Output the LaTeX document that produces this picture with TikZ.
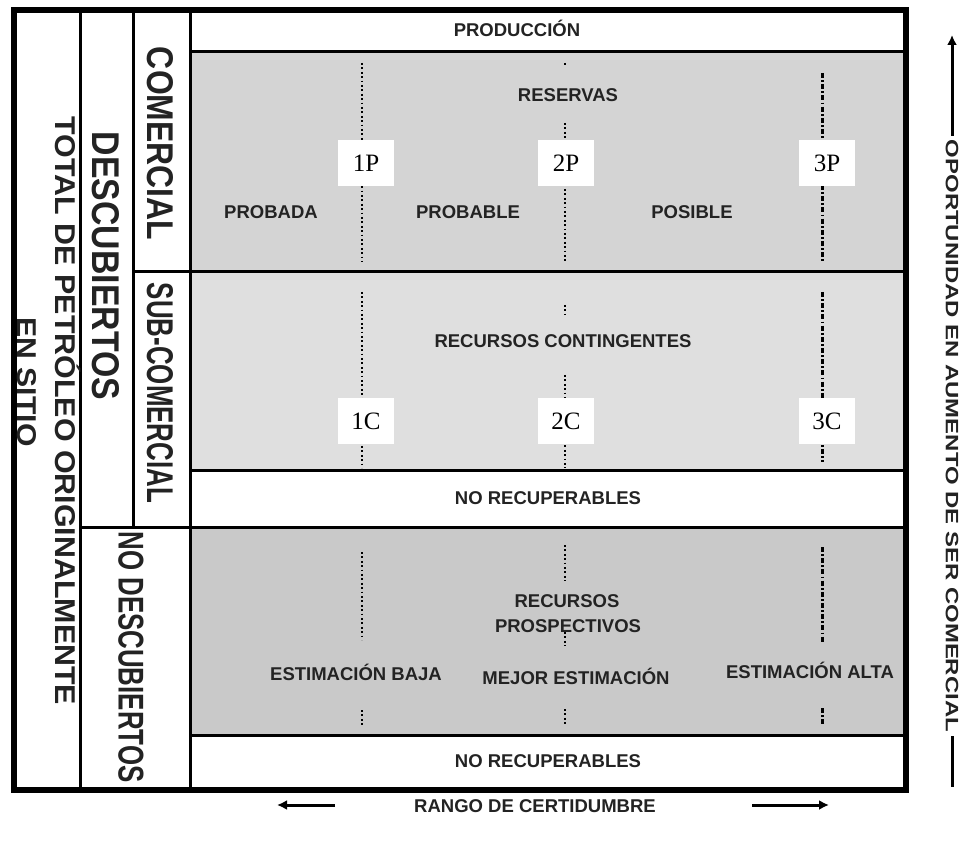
\documentclass[tikz,border=0pt]{standalone}
\usepackage{fontspec}
\setmainfont{Liberation Sans}
\newfontfamily\numfont{Liberation Serif}
\usetikzlibrary{arrows.meta}
\definecolor{bandA}{RGB}{212,212,212}
\definecolor{bandB}{RGB}{223,223,223}
\definecolor{bandC}{RGB}{201,201,201}
\definecolor{ink}{RGB}{35,35,35}
\begin{document}
\begin{tikzpicture}[x=1pt,y=-1pt,
  lbl/.style={font=\bfseries\fontsize{18.5}{22}\selectfont, text=ink, inner sep=0pt, anchor=base},
  vlab/.style={rotate=-90, inner sep=0pt, text=ink, anchor=center, font=\bfseries},
  numbox/.style={fill=white, minimum width=56pt, minimum height=46pt, inner sep=0pt, font=\numfont\fontsize{25}{25}\selectfont},
  sepline/.style={line width=3pt},
  dotl/.style={line width=2.6pt, dash pattern=on 1.8pt off 2.6pt},
  dashdotl/.style={line width=3pt, dash pattern=on 5pt off 2.2pt on 1.8pt off 2.2pt},
  arr/.style={line width=3pt, -{Latex[length=10pt,width=10pt]}}
]
\useasboundingbox (0,0) rectangle (962,842);
\fill[white] (0,0) rectangle (962,842);
% bands
\fill[bandA] (190,52) rectangle (906,272);
\fill[bandB] (190,272) rectangle (906,470);
\fill[bandC] (190,527) rectangle (906,735);
% separators
\draw[sepline] (80,10) -- (80,790);
\draw[sepline] (133,10) -- (133,527);
\draw[sepline] (190,10) -- (190,790);
\draw[sepline] (190,52) -- (906,52);
\draw[sepline] (133,272) -- (906,272);
\draw[sepline] (190,470) -- (906,470);
\draw[sepline] (80,527) -- (906,527);
\draw[sepline] (190,735) -- (906,735);
\draw[line width=5.5pt] (14,10) rectangle (906,790);
% dotted lines, column 1
\draw[dotl] (362,63) -- (362,262);
\draw[dotl] (362,292) -- (362,468);
\draw[dotl] (362,552) -- (362,640);
\draw[dotl] (362,710) -- (362,726);
% column 2
\draw[dotl] (565,63) -- (565,67);
\draw[dotl] (565,123) -- (565,262);
\draw[dotl] (565,305) -- (565,314);
\draw[dotl] (565,375) -- (565,468);
\draw[dotl] (565,545) -- (565,581);
\draw[dotl] (565,632) -- (565,646);
\draw[dotl] (565,709) -- (565,726);
% column 3
\draw[dashdotl] (822,73) -- (822,263);
\draw[dashdotl] (822,292) -- (822,462);
\draw[dashdotl] (822,547) -- (822,642);
\draw[dashdotl] (822,708) -- (822,726);
% number boxes
\node[numbox] (p1) at (366,163) {1P};
\node[numbox] (p2) at (566,163) {2P};
\node[numbox] (p3) at (827,163) {3P};
\node[numbox] (c1) at (366,421) {1C};
\node[numbox] (c2) at (566,421) {2C};
\node[numbox] (c3) at (827,421) {3C};
% labels
\node[lbl] (prod) at (517,37) {PRODUCCIÓN};
\node[lbl] (res) at (568,101.5) {RESERVAS};
\node[lbl] (proba) at (271,218.5) {PROBADA};
\node[lbl] (probb) at (468,218.5) {PROBABLE};
\node[lbl] (posi) at (692,218.5) {POSIBLE};
\node[lbl] (rcont) at (563,348) {RECURSOS CONTINGENTES};
\node[lbl] (nr1) at (548,504) {NO RECUPERABLES};
\node[lbl] (rp1) at (567,607) {RECURSOS};
\node[lbl] (rp2) at (568,632) {PROSPECTIVOS};
\node[lbl] (eb) at (356,680) {ESTIMACIÓN BAJA};
\node[lbl] (me) at (576,684) {MEJOR ESTIMACIÓN};
\node[lbl] (ea) at (810,678) {ESTIMACIÓN ALTA};
\node[lbl] (nr2) at (548,767) {NO RECUPERABLES};
% vertical labels
\node[vlab] (com) at (160,143.5) {\resizebox{193pt}{26pt}{COMERCIAL}};
\node[vlab] (subcom) at (160,393) {\resizebox{220pt}{26pt}{SUB-COMERCIAL}};
\node[vlab] (desc) at (106,266) {\resizebox{268pt}{27pt}{DESCUBIERTOS}};
\node[vlab] (nodesc) at (131,657) {\resizebox{251pt}{25pt}{NO DESCUBIERTOS}};
\node[vlab] (total) at (65,411) {\resizebox{588pt}{20pt}{TOTAL DE PETR\smash{Ó}LEO ORIGINALMENTE}};
\node[vlab] (sitio) at (27,382) {\resizebox{129pt}{19pt}{EN SITIO}};
% right label and arrow
\node[vlab, inner xsep=4pt] (opp) at (952,436) {\resizebox{592pt}{12.5pt}{OPORTUNIDAD EN AUMENTO DE SER COMERCIAL}};
\coordinate (uptip) at (952,35);
\coordinate (dnend) at (952,787);
\draw[arr] (opp.west) -- (uptip);
\draw[line width=3pt] (opp.east) -- (dnend);
% bottom label and arrows
\node[lbl] (rango) at (535,812) {RANGO DE CERTIDUMBRE};
\coordinate (la) at (335,805);
\coordinate (lt) at (277,805);
\coordinate (ra) at (752,805);
\coordinate (rt) at (829,805);
\draw[arr] (la) -- (lt);
\draw[arr] (ra) -- (rt);
\end{tikzpicture}
\end{document}
